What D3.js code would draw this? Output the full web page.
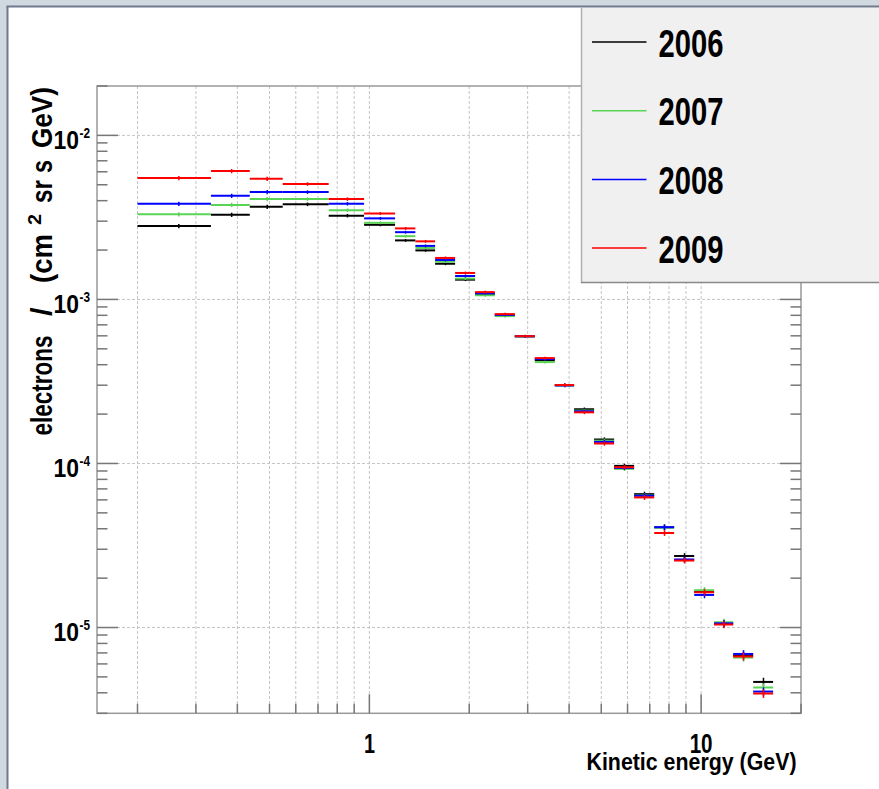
<!DOCTYPE html>
<html><head><meta charset="utf-8">
<script src="https://cdn.jsdelivr.net/npm/d3@7"></script>
<style>
html,body{margin:0;padding:0;background:#fff;overflow:hidden}
svg{display:block}
text{font-family:"Liberation Sans Narrow","Liberation Sans",Arial,sans-serif;font-weight:bold;fill:#000}
</style></head><body>
<svg id="c" width="879" height="789"></svg>
<script>
// ---------- data ----------
const years = ["2006","2007","2008","2009"];
const colors = ["#000000","#59d454","#0000ff","#ff0000"];
const binEdges = [0.200,0.333,0.436,0.548,0.754,0.964,1.195,1.376,1.578,1.813,2.083,2.388,2.744,3.152,3.622,4.14,4.756,5.466,6.28,7.22,8.29,9.53,10.94,12.49,14.35,16.48];
const flux2006 = [2.80e-3,3.28e-3,3.67e-3,3.80e-3,3.24e-3,2.85e-3,2.29e-3,1.99e-3,1.65e-3,1.32e-3,1.077e-3,8.02e-4,5.96e-4,4.26e-4,3.00e-4,2.14e-4,1.40e-4,9.67e-5,6.50e-5,4.08e-5,2.73e-5,1.65e-5,1.057e-5,6.75e-6,4.66e-6];
const flux2007 = [3.30e-3,3.77e-3,4.09e-3,4.09e-3,3.50e-3,2.93e-3,2.43e-3,2.06e-3,1.70e-3,1.34e-3,1.06e-3,7.91e-4,5.95e-4,4.15e-4,2.99e-4,2.10e-4,1.377e-4,9.27e-5,6.38e-5,4.07e-5,2.58e-5,1.688e-5,1.077e-5,6.56e-6,4.31e-6];
const flux2008 = [3.83e-3,4.28e-3,4.51e-3,4.51e-3,3.83e-3,3.12e-3,2.57e-3,2.12e-3,1.74e-3,1.39e-3,1.09e-3,8.05e-4,5.96e-4,4.33e-4,2.99e-4,2.08e-4,1.354e-4,9.40e-5,6.36e-5,4.09e-5,2.60e-5,1.58e-5,1.06e-5,6.90e-6,4.07e-6];
const flux2009 = [5.49e-3,6.06e-3,5.44e-3,5.05e-3,4.09e-3,3.34e-3,2.71e-3,2.26e-3,1.79e-3,1.45e-3,1.108e-3,8.14e-4,5.97e-4,4.39e-4,3.01e-4,2.05e-4,1.324e-4,9.49e-5,6.21e-5,3.77e-5,2.56e-5,1.64e-5,1.043e-5,6.66e-6,3.96e-6];
const relErr = [0.03,0.03,0.03,0.025,0.025,0.02,0.02,0.02,0.02,0.02,0.02,0.02,0.02,0.02,0.025,0.025,0.03,0.03,0.035,0.04,0.04,0.045,0.05,0.055,0.06];
const xTickLabels = [{v:1,t:"1"},{v:10,t:"10"}];
const yTickExps = [-2,-3,-4,-5];
const xTitle = "Kinetic energy (GeV)";
const yTitleParts = ["electrons","/","(cm","2","sr","s","GeV)"];
const series = [flux2006,flux2007,flux2008,flux2009];

// ---------- layout ----------
const W = 879, H = 789;
const L = 97, R = 801, T = 86, B = 713.3;
const svg = d3.select("#c");

const x = d3.scaleLog().domain([0.151, 20]).range([L, R]);
const y = d3.scaleLog().domain([3.0e-6, 0.02]).range([B, T]);

// canvas frame
svg.append("rect").attr("x",0).attr("y",0).attr("width",W).attr("height",H).attr("fill","#d0d9df");
svg.append("rect").attr("x",8).attr("y",7).attr("width",W).attr("height",H).attr("fill","#ffffff");
svg.append("line").attr("x1",7.5).attr("x2",7.5).attr("y1",6).attr("y2",H).attr("stroke","#6f7a8c").attr("stroke-width",2);
svg.append("line").attr("x1",6.5).attr("x2",W).attr("y1",6.5).attr("y2",6.5).attr("stroke","#6f7a8c").attr("stroke-width",2);

// grid
const xt = x.ticks().filter(v => v > 0.151 && v <= 20);
const yt = y.ticks();
const isMajor = v => Math.abs(Math.log10(v) - Math.round(Math.log10(v))) < 1e-6;
svg.append("g").selectAll("line").data(xt.filter(v=>v<20)).join("line")
  .attr("x1",d=>x(d)).attr("x2",d=>x(d)).attr("y1",T).attr("y2",B)
  .attr("stroke","#c4c4c4").attr("stroke-width",1).attr("stroke-dasharray","3,2");
svg.append("g").selectAll("line").data(yt.filter(isMajor)).join("line")
  .attr("x1",L).attr("x2",R).attr("y1",d=>y(d)).attr("y2",d=>y(d))
  .attr("stroke","#c4c4c4").attr("stroke-width",1).attr("stroke-dasharray","3,2");

// frame
svg.append("rect").attr("x",L).attr("y",T).attr("width",R-L).attr("height",B-T)
  .attr("fill","none").attr("stroke","#999").attr("stroke-width",1.5);

// ticks
const tk = svg.append("g").attr("stroke","#777").attr("stroke-width",1.5);
tk.selectAll(".xt").data(xt).join("line")
  .attr("x1",d=>x(d)).attr("x2",d=>x(d)).attr("y1",B).attr("y2",d=>B-(isMajor(d)?19:9.5));
tk.selectAll(".yl").data(yt).join("line")
  .attr("x1",L).attr("x2",d=>L+(isMajor(d)?21:10.5)).attr("y1",d=>y(d)).attr("y2",d=>y(d));
tk.selectAll(".yr").data(yt).join("line")
  .attr("x1",R).attr("x2",d=>R-(isMajor(d)?21:10.5)).attr("y1",d=>y(d)).attr("y2",d=>y(d));

// tick labels
const xl = svg.append("g");
xl.selectAll("text").data(xTickLabels).join("text")
  .attr("x",d=>x(d.v)).attr("y",752.8).attr("text-anchor","middle")
  .attr("font-size",27).text(d=>d.t)
  .attr("textLength",d=>d.t.length===1?11:23).attr("lengthAdjust","spacingAndGlyphs");
const yl = svg.append("g");
yTickExps.forEach(e => {
  const py = y(Math.pow(10,e));
  yl.append("text").attr("x",53.5).attr("y",py+13.2).attr("font-size",25)
    .attr("textLength",25.5).attr("lengthAdjust","spacingAndGlyphs").text("10");
  yl.append("text").attr("x",79.5).attr("y",py+2.8).attr("font-size",14.5)
    .attr("textLength",10.5).attr("lengthAdjust","spacingAndGlyphs").text(String(e));
});

// axis titles
svg.append("text").attr("x",586.5).attr("y",770).attr("font-size",24.5)
  .attr("textLength",210).attr("lengthAdjust","spacingAndGlyphs").text(xTitle);

const yPartPos = [ // [start y (bottom), length, baseline x, font size]
  [435.5,100,51.7,29],[316,8.5,51.7,29],[283,49,51.7,29],[225,11,41,18],
  [203,23,51.7,29],[173,13,51.7,29],[148,61,51.7,29]
];
yTitleParts.forEach((p,i) => {
  const [sy,len,bx,fs] = yPartPos[i];
  svg.append("text").attr("transform",`translate(${bx},${sy}) rotate(-90)`)
    .attr("font-size",fs).attr("textLength",len).attr("lengthAdjust","spacingAndGlyphs").text(p);
});

// data
const bins = d3.range(binEdges.length-1).map(i => ({lo:binEdges[i], hi:binEdges[i+1], c:(binEdges[i]+binEdges[i+1])/2, i}));
series.forEach((s,k) => {
  const g = svg.append("g").attr("stroke",colors[k]);
  g.selectAll(".h").data(bins).join("line")
    .attr("x1",d=>x(d.lo)).attr("x2",d=>x(d.hi)).attr("y1",d=>y(s[d.i])).attr("y2",d=>y(s[d.i]))
    .attr("stroke-width",2);
  g.selectAll(".v").data(bins).join("line")
    .attr("x1",d=>x(d.c)).attr("x2",d=>x(d.c))
    .attr("y1",d=>y(s[d.i]*(1+relErr[d.i]))).attr("y2",d=>y(s[d.i]*(1-relErr[d.i])))
    .attr("stroke-width",1.5);
});

// legend
const lg = svg.append("g");
lg.append("rect").attr("x",581).attr("y",8).attr("width",W-581).attr("height",274).attr("fill","#f0f0f0");
lg.append("line").attr("x1",581.5).attr("x2",581.5).attr("y1",8).attr("y2",283).attr("stroke","#b0b0b0").attr("stroke-width",1.5);
lg.append("line").attr("x1",581).attr("x2",W).attr("y1",282.5).attr("y2",282.5).attr("stroke","#888").attr("stroke-width",1.5);
years.forEach((yr,k) => {
  const ly = 42 + k*68.7;
  lg.append("line").attr("x1",592).attr("x2",646.5).attr("y1",ly).attr("y2",ly)
    .attr("stroke",colors[k]).attr("stroke-width",1.5);
  lg.append("text").attr("x",658.5).attr("y",ly+14.6).attr("font-size",39.5)
    .attr("textLength",65).attr("lengthAdjust","spacingAndGlyphs").text(yr);
});
</script>
</body></html>
